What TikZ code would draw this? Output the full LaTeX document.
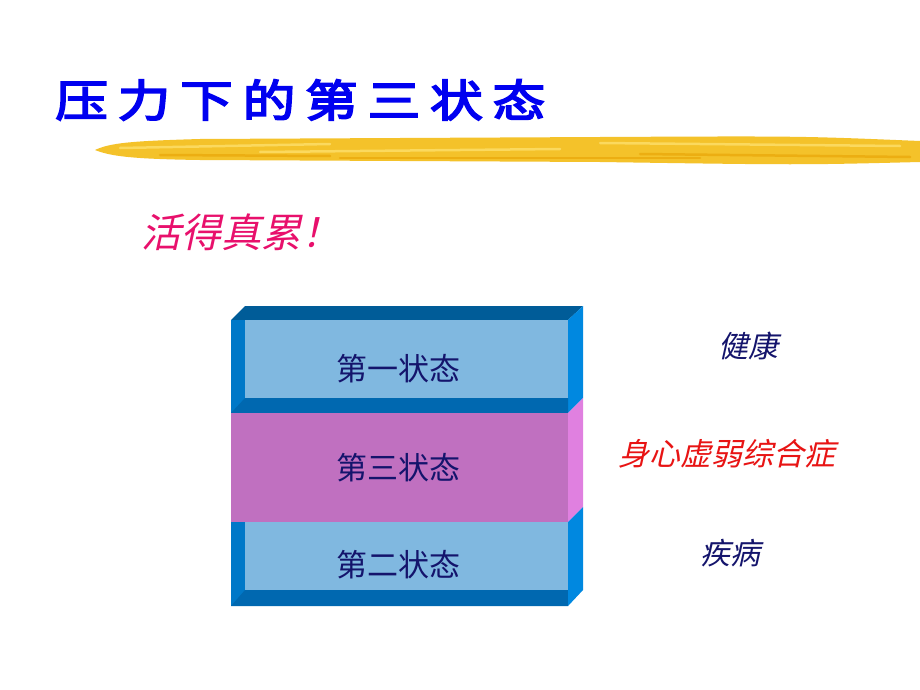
\documentclass[tikz,border=0pt]{standalone}
\usepackage{fontspec}
\usepackage{xcolor}
\usepackage{tikz}
\newfontfamily\cjk{Noto Sans CJK SC}
\newfontfamily\cjkit{Noto Sans CJK SC}[FakeSlant=0.22]
\newfontfamily\cjktitle{Noto Sans CJK SC}[FakeBold=4,FakeStretch=1.2,LetterSpace=22]
\definecolor{titleblue}{HTML}{0000F0}
\definecolor{navy}{HTML}{14146C}
\definecolor{alarm}{HTML}{E81414}
\definecolor{rose}{HTML}{E8106C}
\definecolor{gold}{HTML}{F4C22A}
\definecolor{goldlight}{HTML}{FBD95E}
\definecolor{golddark}{HTML}{ECAE12}
\definecolor{panel}{HTML}{80B8E0}
\definecolor{topband}{HTML}{005C98}
\definecolor{botband}{HTML}{0068B0}
\definecolor{sideL}{HTML}{0078C8}
\definecolor{sideR}{HTML}{0088E0}
\definecolor{mid}{HTML}{C070C0}
\definecolor{midR}{HTML}{E080E0}
\tikzset{
  state/.style={text=navy, font=\cjk\fontsize{31}{36}\selectfont},
  note/.style={text=navy, font=\cjkit\fontsize{30}{36}\selectfont},
  warn/.style={text=alarm, font=\cjkit\fontsize{31}{36}\selectfont},
  streak/.style={line cap=round, line width=2.5pt}
}

\begin{document}
\begin{tikzpicture}[x=1pt,y=-1pt]
  \useasboundingbox[fill=white] (0,0) rectangle (920,690);

  % title and brush stroke
  \node[anchor=west, text=titleblue, font=\cjktitle\fontsize{44}{50}\selectfont, inner sep=0pt] (title) at (55,100) {压力下的第三状态};
  \fill[gold] (95,150) .. controls (110,143) and (130,141) .. (200,139) -- (600,137)
    .. controls (800,136) .. (920,141) -- (920,162) .. controls (800,165) .. (600,162)
    -- (200,160) .. controls (130,159) and (110,156) .. (95,150) -- cycle;
  \draw[streak, goldlight] (120,148) -- (330,144);
  \draw[streak, goldlight] (260,152) -- (560,149);
  \draw[streak, goldlight] (600,143) -- (900,146);
  \draw[streak, golddark] (340,158) -- (700,158);
  \draw[streak, golddark] (640,154) -- (910,157);
  \draw[streak, golddark] (160,155) -- (330,156);

  \node[anchor=west, text=rose, font=\cjkit\fontsize{40}{46}\selectfont, inner sep=0pt] (motto) at (141,232) {活得真累！};

  % upper block
  \fill[topband] (231,320) -- (245,306) -- (583,306) -- (568,320) -- cycle;
  \fill[sideR] (568,320) -- (583,306) -- (583,398) -- (568,413) -- cycle;
  \fill[sideL] (231,320) rectangle (245,413);
  \fill[panel] (245,320) rectangle (568,398);
  \fill[botband] (231,413) -- (245,398) -- (568,398) -- (568,413) -- cycle;

  % middle block
  \fill[mid] (231,413) rectangle (568,522);
  \fill[midR] (568,413) -- (583,398) -- (583,507) -- (568,522) -- cycle;

  % lower block
  \fill[sideL] (231,522) rectangle (245,606);
  \fill[panel] (245,522) rectangle (568,590);
  \fill[botband] (231,606) -- (245,590) -- (568,590) -- (568,606) -- cycle;
  \fill[sideR] (568,522) -- (583,507) -- (583,590) -- (568,606) -- cycle;

  \node[state] (s1) at (398,369) {第一状态};
  \node[state] (s3) at (398,468) {第三状态};
  \node[state] (s2) at (398,565) {第二状态};

  \node[note] (health) at (748,346) {健康};
  \node[warn] (subhealth) at (727,454) {身心虚弱综合症};
  \node[note] (disease) at (730,553) {疾病};
\end{tikzpicture}
\end{document}
